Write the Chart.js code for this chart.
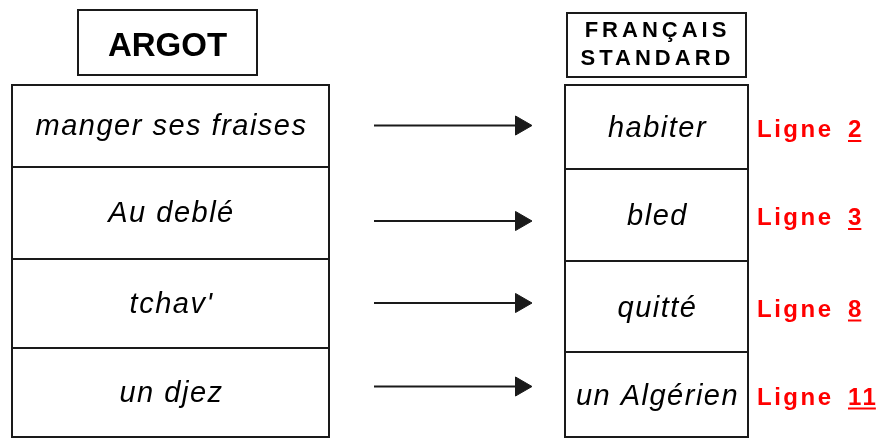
<!DOCTYPE html>
<html>
<head>
<meta charset="utf-8">
<script src="https://cdn.jsdelivr.net/npm/chart.js@4"></script>
<style>
  body { margin: 0; background: #fff; }
  #wrap { width: 890px; height: 439px; }
</style>
</head>
<body>
<div id="wrap"><canvas id="diagram"></canvas></div>
<script>
// data
const argot = ['manger ses fraises', 'Au deblé', "tchav'", 'un djez']
const standard = ['habiter', 'bled', 'quitté', 'un Algérien']
const lignes = [2, 3, 8, 11]
const headers = ['ARGOT', 'FRANÇAIS', 'STANDARD']

// layout (pixel space of the hidden linear scales)
const leftCol = { x0: 12, x1: 329, rows: [85, 167, 259, 348, 437] }
const rightCol = { x0: 565, x1: 748, rows: [85, 169, 261, 352, 437] }
const leftHead = { x0: 78, y0: 10, x1: 257, y1: 75 }
const rightHead = { x0: 567, y0: 13, x1: 746, y1: 77 }
const arrowFrom = 374
const arrowTo = 521
const arrowShift = [-1, 7, -2, -7]
const ligneX = 757
const numX = 848

const ink = '#1a1a1a'
const red = '#ff0000'

function rowMid(col, i) {
    return (col.rows[i] + col.rows[i + 1]) / 2
}

const arrowSets = argot.map((a, i) => {
    const y = (rowMid(leftCol, i) + rowMid(rightCol, i)) / 2 + arrowShift[i]
    return {
        label: a,
        showLine: true,
        data: [{ x: arrowFrom, y: y }, { x: arrowTo, y: y }],
        borderColor: ink,
        borderWidth: 2,
        pointRadius: [0, 11],
        pointStyle: 'triangle',
        rotation: 90,
        pointBackgroundColor: ink,
        pointBorderColor: ink,
        pointBorderWidth: 1,
    }
})

const tablePlugin = {
    id: 'table',
    afterDatasetsDraw(chart) {
        const ctx = chart.ctx
        const sx = chart.scales.x
        const sy = chart.scales.y
        const px = (v) => sx.getPixelForValue(v)
        const py = (v) => sy.getPixelForValue(v)

        ctx.save()
        ctx.strokeStyle = ink
        ctx.lineWidth = 2

        // header boxes
        ;[leftHead, rightHead].forEach((h) => {
            ctx.strokeRect(px(h.x0), py(h.y0), px(h.x1) - px(h.x0), py(h.y1) - py(h.y0))
        })

        // table columns
        ;[leftCol, rightCol].forEach((c) => {
            const top = py(c.rows[0])
            const bot = py(c.rows[c.rows.length - 1])
            ctx.strokeRect(px(c.x0), top, px(c.x1) - px(c.x0), bot - top)
            c.rows.slice(1, -1).forEach((r) => {
                ctx.beginPath()
                ctx.moveTo(px(c.x0), py(r))
                ctx.lineTo(px(c.x1), py(r))
                ctx.stroke()
            })
        })

        // header text
        ctx.fillStyle = '#000'
        ctx.textAlign = 'center'
        ctx.textBaseline = 'middle'
        ctx.font = 'bold 33px "Liberation Sans", Arial, sans-serif'
        ctx.letterSpacing = '0px'
        ctx.fillText(headers[0], px((leftHead.x0 + leftHead.x1) / 2), py((leftHead.y0 + leftHead.y1) / 2) + 4)

        ctx.font = 'bold 22px "Liberation Sans", Arial, sans-serif'
        ctx.letterSpacing = '4px'
        const rcx = px((rightHead.x0 + rightHead.x1) / 2) + 1
        ctx.fillText(headers[1], rcx, py(31))
        ctx.fillText(headers[2], rcx, py(59))

        // cell text
        ctx.font = 'italic 29px "Liberation Sans", Arial, sans-serif'
        ctx.letterSpacing = '1.5px'
        argot.forEach((t, i) => {
            ctx.fillText(t, px((leftCol.x0 + leftCol.x1) / 2) + 1, py(rowMid(leftCol, i)) + 1)
        })
        standard.forEach((t, i) => {
            ctx.fillText(t, px((rightCol.x0 + rightCol.x1) / 2) + 1, py(rowMid(rightCol, i)) + 2)
        })

        // line references
        ctx.fillStyle = red
        ctx.strokeStyle = red
        ctx.textAlign = 'left'
        ctx.textBaseline = 'alphabetic'
        ctx.font = 'bold 24px "Liberation Sans", Arial, sans-serif'
        ctx.letterSpacing = '2.5px'
        lignes.forEach((n, i) => {
            const base = py(rowMid(rightCol, i)) + 10
            ctx.fillText('Ligne', px(ligneX), base)
            const s = String(n)
            ctx.fillText(s, px(numX), base)
            const w = ctx.measureText(s).width - 2.5
            ctx.beginPath()
            ctx.lineWidth = 2
            ctx.moveTo(px(numX), base + 4)
            ctx.lineTo(px(numX) + w, base + 4)
            ctx.stroke()
        })
        ctx.restore()
    },
}

new Chart(document.getElementById('diagram'), {
    type: 'scatter',
    data: { datasets: arrowSets },
    options: {
        responsive: true,
        maintainAspectRatio: false,
        animation: false,
        layout: { padding: 0, autoPadding: false },
        plugins: { legend: { display: false }, tooltip: { enabled: false } },
        scales: {
            x: { type: 'linear', min: 0, max: 890, display: false },
            y: { type: 'linear', min: 0, max: 439, reverse: true, display: false },
        },
    },
    plugins: [tablePlugin],
})
</script>
</body>
</html>
